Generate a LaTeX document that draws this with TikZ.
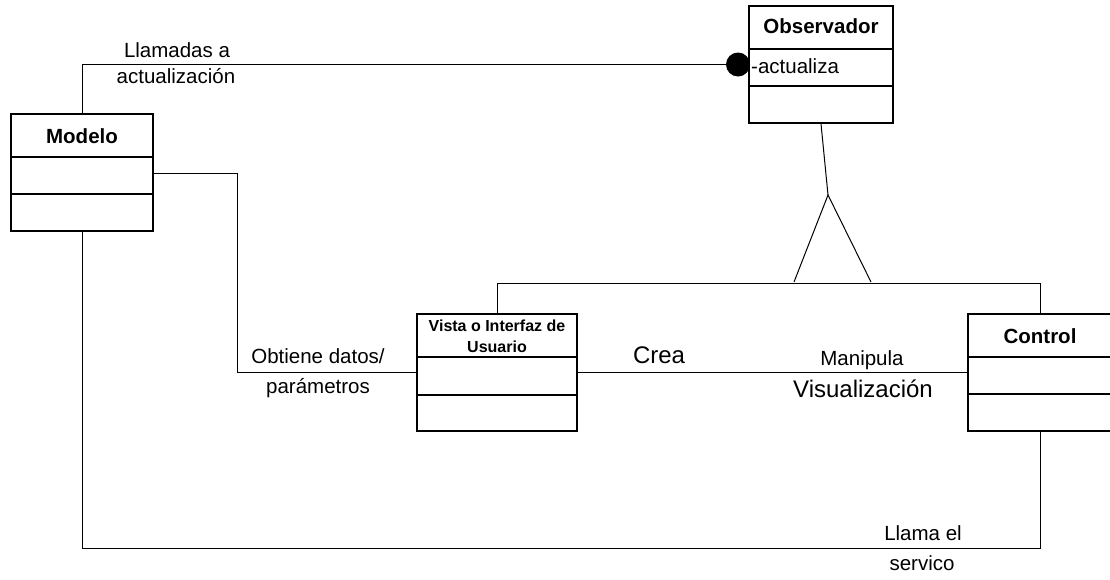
\documentclass[tikz,border=0pt]{standalone}
\usepackage{fontspec}
\setmainfont{Liberation Sans}
\begin{document}
\begin{tikzpicture}[x=1pt,y=-1pt,
  cls/.style={draw, line width=1.6pt, rectangle, minimum height=117pt, inner sep=0pt},
  link/.style={line width=1pt},
  lbl/.style={inner sep=0pt, anchor=base, font=\fontsize{20.5}{24}\selectfont},
  biglbl/.style={inner sep=0pt, anchor=base, font=\fontsize{24}{28}\selectfont},
  ttl/.style={inner sep=0pt, anchor=base, font=\fontsize{20.5}{24}\selectfont\bfseries},
  smallttl/.style={inner sep=0pt, anchor=base, font=\fontsize{16}{19}\selectfont\bfseries},
  divider/.style={line width=1.6pt}]
\useasboundingbox (0,0) rectangle (1110,579);

% class boxes
\node[cls, minimum width=142pt] (modelo) at (82,172.5) {};
\node[cls, minimum width=144pt] (obs) at (821,64.5) {};
\node[cls, minimum width=160pt] (vista) at (497,372.5) {};
\node[cls, minimum width=144pt] (control) at (1040,372.5) {};

% compartment dividers
\draw[divider] (modelo.west |- 0,157) -- (modelo.east |- 0,157);
\draw[divider] (modelo.west |- 0,194) -- (modelo.east |- 0,194);
\draw[divider] (obs.west |- 0,49) -- (obs.east |- 0,49);
\draw[divider] (obs.west |- 0,86) -- (obs.east |- 0,86);
\draw[divider] (vista.west |- 0,357) -- (vista.east |- 0,357);
\draw[divider] (vista.west |- 0,395) -- (vista.east |- 0,395);
\draw[divider] (control.west |- 0,357) -- (control.east |- 0,357);
\draw[divider] (control.west |- 0,394) -- (control.east |- 0,394);

% class names and members
\node[ttl] (tmodelo) at (82,143) {Modelo};
\node[ttl] (tobs) at (821,33) {Observador};
\node[lbl, anchor=base west] (tact) at (751,73) {-actualiza};
\node[smallttl] (tvista1) at (497,331) {Vista o Interfaz de};
\node[smallttl] (tvista2) at (497,352) {Usuario};
\node[ttl] (tcontrol) at (1040,343) {Control};

% interface ball on the observer
\node[circle, fill, minimum size=24pt, inner sep=0pt] (dot) at (738,64.5) {};

% update calls from the model
\draw[link] (modelo.north) |- (dot.west);

% model data to the view
\coordinate (mdata) at (modelo.east |- 0,173);
\draw[link] (mdata) -- (237,173) |- (vista.west);

% view to control
\draw[link] (vista.east) -- (control.west);

% control calls the model service
\coordinate (bottom) at (control.south |- 0,548);
\draw[link] (modelo.south) |- (bottom) -- (control.south);

% generalization to the observer
\coordinate (apex) at (828,195);
\coordinate (tl) at (794,282);
\coordinate (tr) at (871,282);
\draw[link] (obs.south) -- (apex);
\draw[link] (tl) -- (apex) -- (tr);
\draw[link] (vista.north) -- ++(0,-30) -| (control.north);

% connector labels
\node[lbl] (l1a) at (177,57) {Llamadas a};
\node[lbl] (l1b) at (176,83) {actualización};
\node[lbl] (l2a) at (318,363) {Obtiene datos/};
\node[lbl] (l2b) at (318,393) {parámetros};
\node[biglbl] (l3) at (659,363) {Crea};
\node[lbl] (l4a) at (862,365) {Manipula};
\node[biglbl] (l4b) at (863,397) {Visualización};
\node[lbl] (l5a) at (923,540) {Llama el};
\node[lbl] (l5b) at (922,570) {servico};
\end{tikzpicture}
\end{document}
